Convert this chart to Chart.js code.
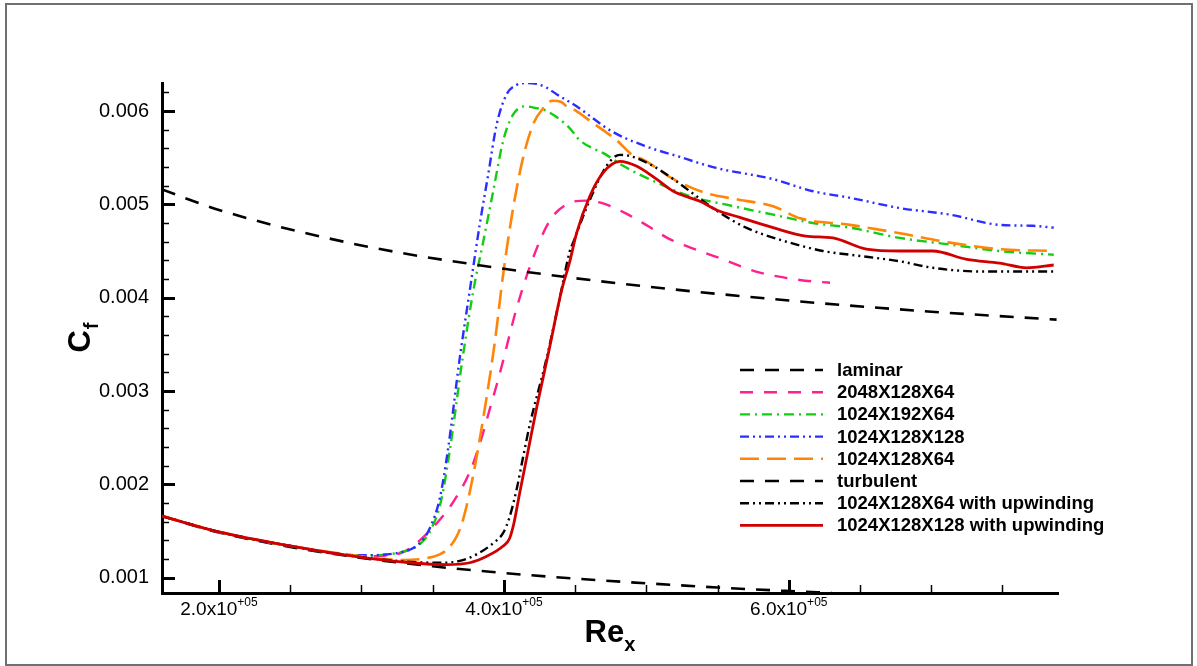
<!DOCTYPE html>
<html>
<head>
<meta charset="utf-8">
<script src="https://cdn.jsdelivr.net/npm/chart.js@4.4.0/dist/chart.umd.min.js"></script>
<style>
body { margin: 0; background: #fff; }
canvas { display: block; }
</style>
</head>
<body>
<canvas id="cf_chart" width="1197" height="666"></canvas>
<script>
"use strict";

// Re_x / Cf values
let laminarX = [160000, 200000, 250000, 300000, 350000, 400000, 450000, 500000, 550000, 600000, 630000];
let laminarY = [0.00166, 0.001485, 0.00133, 0.001212, 0.001122, 0.00105, 0.00099, 0.00094, 0.000895, 0.000857, 0.000837];

let pinkX = [160000, 200000, 250000, 300000, 320000, 330000, 341000, 355000, 364000, 376000, 383000, 390000, 397000, 409000, 420600, 432000, 444000, 458000, 469700, 486000, 502000, 516000, 530500, 554000, 577000, 607700, 629000];
let pinkY = [0.00166, 0.00149, 0.00134, 0.00123, 0.00124, 0.00128, 0.00140, 0.00162, 0.00180, 0.00213, 0.00243, 0.00280, 0.00318, 0.00389, 0.00443, 0.00482, 0.00500, 0.00504, 0.00501, 0.00490, 0.00476, 0.00463, 0.00454, 0.00441, 0.00428, 0.00419, 0.00416];

let greenX = [160000, 200000, 250000, 300000, 327000, 341000, 349000, 356000, 362000, 371000, 378500, 385500, 392500, 399500, 406000, 414700, 422900, 430000, 446000, 453000, 472000, 484000, 505000, 530000, 561000, 589000, 617000, 643000, 678000, 713000, 748000, 786000];
let greenY = [0.00166, 0.00149, 0.00134, 0.00124, 0.00127, 0.00136, 0.00152, 0.00183, 0.00236, 0.00335, 0.00407, 0.00460, 0.00514, 0.00568, 0.00595, 0.00605, 0.00603, 0.00600, 0.00582, 0.00569, 0.00553, 0.00541, 0.00525, 0.00509, 0.00498, 0.00489, 0.00480, 0.00475, 0.00464, 0.00457, 0.00450, 0.00446];

let blueX = [160000, 200000, 250000, 300000, 327000, 341000, 348000, 355000, 361000, 369000, 376000, 383000, 389000, 395000, 402000, 409000, 416000, 423000, 430000, 437000, 451000, 476000, 500000, 521000, 549000, 589000, 617000, 643000, 678000, 713000, 748000, 771000, 786000];
let blueY = [0.00166, 0.00149, 0.00134, 0.00124, 0.00127, 0.00137, 0.00153, 0.00185, 0.00240, 0.00335, 0.00407, 0.00478, 0.00532, 0.00586, 0.00618, 0.00628, 0.00630, 0.00629, 0.00625, 0.00618, 0.00605, 0.00578, 0.00562, 0.00552, 0.00539, 0.00527, 0.00514, 0.00507, 0.00496, 0.00489, 0.00478, 0.00477, 0.00475];

let orangeX = [160000, 200000, 250000, 300000, 329000, 346000, 355000, 360000, 366800, 371500, 378500, 386700, 393700, 399500, 406500, 413500, 420600, 427600, 434000, 440000, 444000, 448600, 462700, 472000, 479000, 491000, 497800, 519000, 542000, 565000, 589000, 608000, 643000, 678000, 713000, 748000, 786000];
let orangeY = [0.00166, 0.00149, 0.00134, 0.00123, 0.00119, 0.00121, 0.00125, 0.00130, 0.00144, 0.00163, 0.00210, 0.00282, 0.00353, 0.00425, 0.00496, 0.00550, 0.00586, 0.00603, 0.00611, 0.00610, 0.00605, 0.00602, 0.00587, 0.00577, 0.00569, 0.00552, 0.00548, 0.00527, 0.00512, 0.00505, 0.00498, 0.00485, 0.00478, 0.00469, 0.00459, 0.00452, 0.00450];

let turbX = [160000, 200000, 300000, 400000, 500000, 600000, 700000, 788000];
let turbY = [0.00516, 0.00494, 0.00456, 0.00431, 0.00412, 0.00397, 0.00385, 0.003765];

let upw64X = [160000, 200000, 250000, 300000, 334000, 357000, 369000, 380800, 392500, 399500, 404000, 409000, 413600, 418200, 430000, 439300, 446300, 448600, 460400, 472000, 481400, 488000, 502500, 519000, 535000, 551600, 570000, 594000, 624000, 643000, 678000, 701000, 736000, 760000, 786000];
let upw64Y = [0.00166, 0.00149, 0.00134, 0.00122, 0.00117, 0.00116, 0.00118, 0.00125, 0.00137, 0.00148, 0.00165, 0.00195, 0.00230, 0.00264, 0.00335, 0.00400, 0.00450, 0.00459, 0.00505, 0.00541, 0.00553, 0.00552, 0.00543, 0.00527, 0.00509, 0.00491, 0.00475, 0.00462, 0.00450, 0.00446, 0.00439, 0.00432, 0.00428, 0.00428, 0.00428];

let upw128X = [160000, 200000, 250000, 299000, 334000, 359800, 376000, 388000, 399500, 404000, 407000, 411000, 417000, 423000, 432000, 440400, 446300, 451000, 460400, 469700, 481400, 493000, 507200, 519000, 538000, 549300, 565600, 589000, 612000, 631000, 654500, 678000, 701000, 725000, 748000, 767000, 786000];
let upw128Y = [0.00166, 0.00149, 0.00134, 0.00122, 0.00116, 0.00114, 0.00116, 0.00123, 0.00134, 0.00142, 0.00158, 0.00190, 0.00236, 0.00282, 0.00346, 0.00407, 0.00439, 0.00469, 0.00509, 0.00534, 0.00546, 0.00541, 0.00527, 0.00514, 0.00503, 0.00494, 0.00486, 0.00475, 0.00466, 0.00464, 0.00452, 0.00450, 0.00450, 0.00441, 0.00437, 0.00432, 0.00435];

let seriesNames = ["laminar", "2048X128X64", "1024X192X64", "1024X128X128", "1024X128X64", "turbulent", "1024X128X64 with upwinding", "1024X128X128 with upwinding"];

let yTicks = [0.001, 0.0012, 0.0014, 0.0016, 0.0018, 0.002, 0.0022, 0.0024, 0.0026, 0.0028, 0.003, 0.0032, 0.0034, 0.0036, 0.0038, 0.004, 0.0042, 0.0044, 0.0046, 0.0048, 0.005, 0.0052, 0.0054, 0.0056, 0.0058, 0.006, 0.0062];
let yTickLabels = ["0.001", "0.002", "0.003", "0.004", "0.005", "0.006"];
let xTicks = [200000, 250000, 300000, 350000, 400000, 450000, 500000, 550000, 600000, 650000, 700000, 750000];
let xMajor = [200000, 400000, 600000];
let xTickLabels = ["2.0x10", "4.0x10", "6.0x10"];
let xTickExp = "+05";

const FONT = '"Liberation Sans", Arial, sans-serif';

function pts(xs, ys)
{
    return xs.map((x, i) => ({ x: x, y: ys[i] }));
}

function isMajorY(v)
{
    return Math.abs(v * 1000 - Math.round(v * 1000)) < 1e-6;
}

let styles = [
    { color: "#000000", dash: [14, 11], width: 2.6 },
    { color: "#ff1f8e", dash: [13, 11], width: 2.4 },
    { color: "#14cc14", dash: [10, 5, 2, 5], width: 2.4 },
    { color: "#2d2dff", dash: [9, 4, 2, 4, 2, 4], width: 2.4 },
    { color: "#ff8508", dash: [19, 8], width: 2.6 },
    { color: "#000000", dash: [14, 11], width: 2.6 },
    { color: "#000000", dash: [9, 4, 2, 4, 2, 4], width: 2.4 },
    { color: "#d00000", dash: [], width: 2.8 }
];

let allData = [
    pts(laminarX, laminarY),
    pts(pinkX, pinkY),
    pts(greenX, greenY),
    pts(blueX, blueY),
    pts(orangeX, orangeY),
    pts(turbX, turbY),
    pts(upw64X, upw64Y),
    pts(upw128X, upw128Y)
];

let datasets = allData.map((d, i) => ({
    label: seriesNames[i],
    data: d,
    borderColor: styles[i].color,
    borderDash: styles[i].dash,
    borderWidth: styles[i].width,
    pointRadius: 0,
    fill: false,
    cubicInterpolationMode: "monotone",
    order: seriesNames.length - i
}));

// frame round the whole picture
let framePlugin = {
    id: "frame",
    beforeDraw(chart)
    {
        let ctx = chart.ctx;
        ctx.save();
        ctx.fillStyle = "#fff";
        ctx.fillRect(0, 0, chart.width, chart.height);
        ctx.strokeStyle = "#707070";
        ctx.lineWidth = 2;
        ctx.strokeRect(6, 4, 1186, 661);
        ctx.restore();
    }
};

// tick marks pointing into the plot, x labels with exponent, axis titles, legend
let decorPlugin = {
    id: "decor",
    afterDraw(chart)
    {
        let ctx = chart.ctx;
        let area = chart.chartArea;
        let sx = chart.scales.x;
        let sy = chart.scales.y;
        ctx.save();
        ctx.strokeStyle = "#000";
        ctx.setLineDash([]);

        sy.ticks.forEach(t => {
            let py = Math.round(sy.getPixelForValue(t.value)) + 0.5;
            let major = isMajorY(t.value);
            ctx.lineWidth = major ? 3 : 1.5;
            ctx.beginPath();
            ctx.moveTo(area.left, py);
            ctx.lineTo(area.left + (major ? 13 : 7), py);
            ctx.stroke();
        });

        sx.ticks.forEach(t => {
            let px = Math.round(sx.getPixelForValue(t.value)) + 0.5;
            let major = xMajor.includes(t.value);
            ctx.lineWidth = major ? 3 : 1.5;
            ctx.beginPath();
            ctx.moveTo(px, area.bottom);
            ctx.lineTo(px, area.bottom - (major ? 13 : 8));
            ctx.stroke();
        });

        ctx.fillStyle = "#000";
        ctx.textBaseline = "alphabetic";
        xMajor.forEach((v, i) => {
            let px = sx.getPixelForValue(v);
            ctx.font = "19px " + FONT;
            let w1 = ctx.measureText(xTickLabels[i]).width;
            ctx.font = "12px " + FONT;
            let w2 = ctx.measureText(xTickExp).width;
            let x0 = px - (w1 + w2) / 2;
            ctx.font = "19px " + FONT;
            ctx.textAlign = "left";
            ctx.fillText(xTickLabels[i], x0, area.bottom + 22);
            ctx.font = "12px " + FONT;
            ctx.fillText(xTickExp, x0 + w1, area.bottom + 13);
        });

        // Re_x
        ctx.font = "bold 31px " + FONT;
        let wRe = ctx.measureText("Re").width;
        ctx.font = "bold 20px " + FONT;
        let wx = ctx.measureText("x").width;
        let cx = (area.left + area.right) / 2;
        ctx.font = "bold 31px " + FONT;
        ctx.fillText("Re", cx - (wRe + wx) / 2, 642);
        ctx.font = "bold 20px " + FONT;
        ctx.fillText("x", cx - (wRe + wx) / 2 + wRe, 651);

        // C_f
        ctx.save();
        ctx.translate(90, (area.top + area.bottom) / 2);
        ctx.rotate(-Math.PI / 2);
        ctx.font = "bold 31px " + FONT;
        let wC = ctx.measureText("C").width;
        ctx.font = "bold 20px " + FONT;
        let wf = ctx.measureText("f").width;
        ctx.font = "bold 31px " + FONT;
        ctx.fillText("C", -(wC + wf) / 2, 0);
        ctx.font = "bold 20px " + FONT;
        ctx.fillText("f", -(wC + wf) / 2 + wC + 1, 8);
        ctx.restore();

        // legend
        chart.data.datasets.forEach((ds, i) => {
            let y = 370 + i * 22.2;
            ctx.strokeStyle = ds.borderColor;
            ctx.lineWidth = ds.borderWidth;
            ctx.setLineDash(ds.borderDash);
            ctx.beginPath();
            ctx.moveTo(740, y);
            ctx.lineTo(823, y);
            ctx.stroke();
            ctx.setLineDash([]);
            ctx.fillStyle = "#000";
            ctx.font = "bold 18.5px " + FONT;
            ctx.textBaseline = "middle";
            ctx.fillText(ds.label, 837, y + 1);
        });
        ctx.restore();
    }
};

let cfCanvas = document.getElementById("cf_chart").getContext("2d");
let cfChart = new Chart(cfCanvas, {
    type: "line",
    data: { datasets: datasets },
    options: {
        responsive: false,
        animation: false,
        layout: { padding: { left: 96, right: 139, top: 83, bottom: 73 } },
        plugins: {
            legend: { display: false },
            tooltip: { enabled: false }
        },
        scales: {
            x: {
                type: "linear",
                min: 160000,
                max: 789000,
                afterBuildTicks: (axis) => { axis.ticks = xTicks.map(v => ({ value: v })); },
                afterFit: (axis) => { axis.height = 0; },
                grid: { display: true, drawOnChartArea: false, drawTicks: false },
                border: { display: true, color: "#000", width: 3 },
                ticks: { display: false, autoSkip: false }
            },
            y: {
                type: "linear",
                min: 0.000836,
                max: 0.0063,
                afterBuildTicks: (axis) => { axis.ticks = yTicks.map(v => ({ value: v })); },
                afterFit: (axis) => { axis.width = 66; },
                grid: { display: true, drawOnChartArea: false, drawTicks: false },
                border: { display: true, color: "#000", width: 3 },
                ticks: {
                    autoSkip: false,
                    padding: 13,
                    color: "#000",
                    font: { family: FONT, size: 20 },
                    callback: (v) => isMajorY(v) ? yTickLabels[Math.round(v * 1000) - 1] : ""
                }
            }
        }
    },
    plugins: [framePlugin, decorPlugin]
});
</script>
</body>
</html>
